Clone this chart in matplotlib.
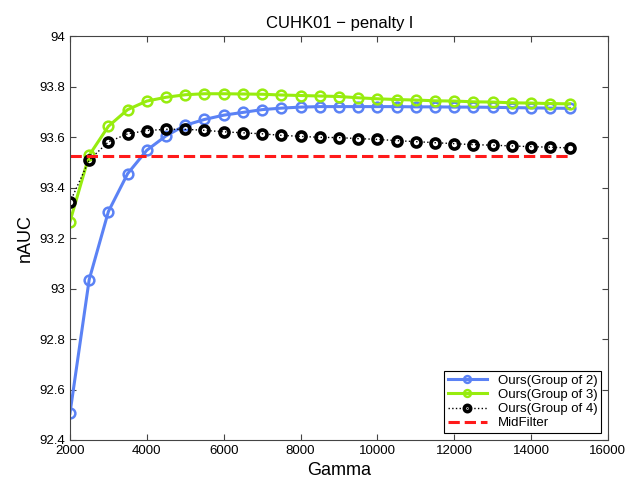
import matplotlib
matplotlib.use('Agg')
import matplotlib.pyplot as plt
import numpy as np

plt.rcParams['font.family'] = ['Liberation Sans', 'DejaVu Sans']

gamma = list(range(2000, 15001, 500))

group2 = [92.506, 93.036, 93.306, 93.456, 93.549, 93.606, 93.648, 93.671, 93.688,
          93.699, 93.710, 93.716, 93.720, 93.722, 93.722, 93.722, 93.722, 93.722,
          93.721, 93.721, 93.720, 93.720, 93.719, 93.718, 93.717, 93.716, 93.715]
group3 = [93.266, 93.529, 93.644, 93.710, 93.744, 93.759, 93.769, 93.773, 93.773,
          93.772, 93.771, 93.768, 93.766, 93.764, 93.762, 93.757, 93.753, 93.750,
          93.748, 93.745, 93.744, 93.741, 93.740, 93.737, 93.736, 93.734, 93.733]
group4 = [93.343, 93.510, 93.582, 93.614, 93.627, 93.632, 93.632, 93.628, 93.622,
          93.618, 93.614, 93.608, 93.604, 93.600, 93.599, 93.595, 93.592, 93.587,
          93.583, 93.579, 93.575, 93.571, 93.569, 93.566, 93.563, 93.561, 93.558]
midfilter = 93.525

xticks = list(range(2000, 16001, 2000))
yticks = [92.4, 92.6, 92.8, 93.0, 93.2, 93.4, 93.6, 93.8, 94.0]
ytick_labels = ['92.4', '92.6', '92.8', '93', '93.2', '93.4', '93.6', '93.8', '94']

fig = plt.figure(figsize=(6.39, 4.86), dpi=100)
ax = fig.add_axes([0.1095, 0.0947, 0.8419, 0.8302])

ax.plot(gamma, group2, '-o', color='#5b82f5', lw=2.2, ms=7, mfc='none', mew=1.8,
        label='Ours(Group of 2)')
ax.plot(gamma, group3, '-o', color='#97ec0e', lw=2.2, ms=7, mfc='none', mew=1.8,
        label='Ours(Group of 3)')
ax.plot(gamma, group4, ':o', color='black', lw=1, ms=6.5, mfc='none', mew=2.6,
        label='Ours(Group of 4)')
ax.plot([gamma[0], gamma[-1]], [midfilter, midfilter], '--', color='#ff1a1a',
        lw=2.2, label='MidFilter')

ax.set_xlim(2000, 16000)
ax.set_ylim(92.4, 94)
ax.set_xticks(xticks)
ax.set_yticks(yticks)
ax.set_yticklabels(ytick_labels)
ax.tick_params(direction='in', top=True, right=True, labelsize=9.5, length=4,
               color='#444444')
for s in ax.spines.values():
    s.set_color('#444444')

ax.set_title('CUHK01 \u2212 penalty l', fontsize=12)
ax.set_xlabel('Gamma', fontsize=13)
ax.set_ylabel('nAUC', fontsize=13)

leg = ax.legend(loc='lower right', fontsize=9.5, fancybox=False, framealpha=1,
                edgecolor='black', borderpad=0.3, labelspacing=0.15,
                handlelength=3, markerscale=0.7, borderaxespad=0.5)
leg.get_frame().set_linewidth(0.8)

fig.savefig('out.png', dpi=100)
